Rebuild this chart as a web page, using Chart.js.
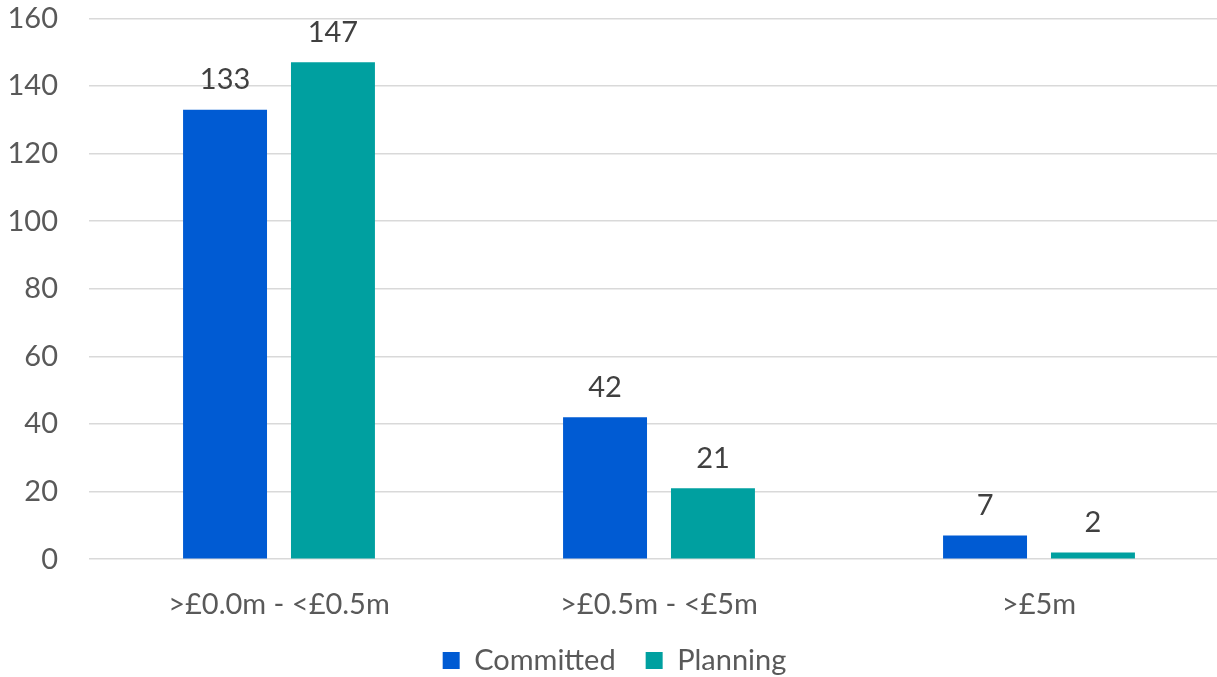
<!DOCTYPE html>
<html>
<head>
<meta charset="utf-8">
<script src="https://cdn.jsdelivr.net/npm/chart.js@4.4.1/dist/chart.umd.min.js"></script>
<style>
  html, body { margin: 0; padding: 0; background: #fff; overflow: hidden; }
  #wrap { position: absolute; left: 0; top: -30px; width: 1260px; height: 715px; }
</style>
</head>
<body>
<div id="wrap"><canvas id="chart"></canvas></div>
<script>
// data
const categories = ['>£0.0m - <£0.5m', '>£0.5m - <£5m', '>£5m'];
const committed = [133, 42, 7];
const planning = [147, 21, 2];
const yTicks = [0, 20, 40, 60, 80, 100, 120, 140, 160];

const FONT = 'Lato, "Open Sans", sans-serif';
const FSIZE = 29;

// value labels above each bar
const valueLabels = {
    id: 'valueLabels',
    afterDatasetsDraw(chart) {
        const ctx = chart.ctx;
        ctx.save();
        ctx.font = FSIZE + 'px ' + FONT;
        ctx.fillStyle = '#404040';
        ctx.textAlign = 'center';
        ctx.textBaseline = 'middle';
        chart.data.datasets.forEach((ds, i) => {
            chart.getDatasetMeta(i).data.forEach((bar, j) => {
                ctx.fillText(String(ds.data[j]), bar.x, bar.y - 30);
            });
        });
        ctx.restore();
    }
};

new Chart(document.getElementById('chart'), {
    type: 'bar',
    data: {
        labels: categories,
        datasets: [
            { label: 'Committed', data: committed, backgroundColor: '#005BD3' },
            { label: 'Planning', data: planning, backgroundColor: '#00A0A0' }
        ]
    },
    options: {
        responsive: true,
        maintainAspectRatio: false,
        animation: false,
        layout: { padding: { top: 0, right: 31, left: 0, bottom: 0 } },
        datasets: { bar: { categoryPercentage: 0.568, barPercentage: 0.778 } },
        plugins: {
            legend: {
                position: 'bottom',
                labels: {
                    color: '#595959',
                    font: { family: FONT, size: FSIZE },
                    boxWidth: 17, boxHeight: 17,
                    padding: 30
                }
            },
            tooltip: { enabled: false }
        },
        scales: {
            x: {
                grid: { display: false, drawTicks: false },
                border: { display: false },
                // pull the legend up closer to the axis labels
                afterFit(axis) { axis.height -= 34; },
                ticks: { color: '#595959', font: { family: FONT, size: FSIZE }, padding: 28 }
            },
            y: {
                min: 0, max: 160,
                afterBuildTicks(axis) { axis.ticks = yTicks.map(v => ({ value: v })); },
                afterFit(axis) { axis.width = 89; },
                grid: { color: '#d9d9d9', lineWidth: 1.5, drawTicks: false },
                border: { display: false },
                ticks: { color: '#595959', font: { family: FONT, size: FSIZE }, padding: 31 }
            }
        }
    },
    plugins: [valueLabels]
});
</script>
</body>
</html>
